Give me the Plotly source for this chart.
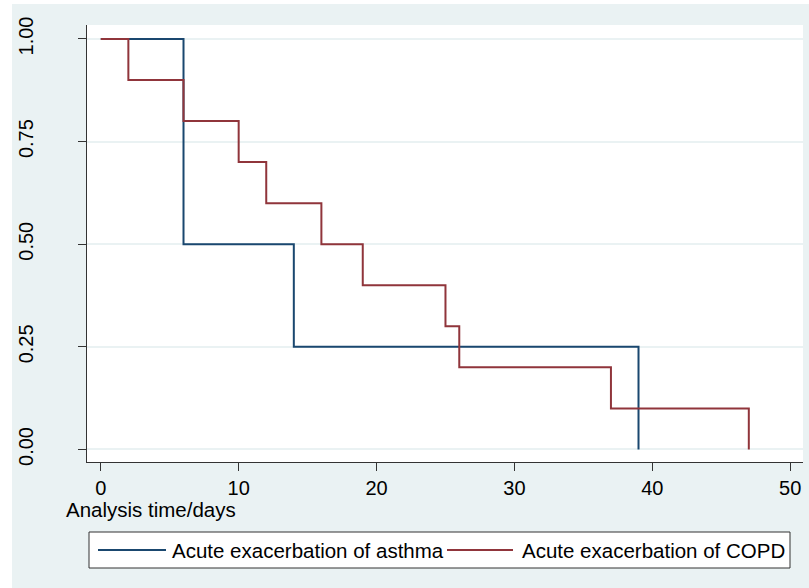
import plotly.graph_objects as go

# ---- data ----
asthma_time = [0, 6, 14, 39]
asthma_surv = [1.0, 0.5, 0.25, 0.0]
copd_time = [0, 2, 6, 10, 12, 16, 19, 25, 26, 37, 47]
copd_surv = [1.0, 0.9, 0.8, 0.7, 0.6, 0.5, 0.4, 0.3, 0.2, 0.1, 0.0]
x_ticks = [0, 10, 20, 30, 40, 50]
y_ticks = [0, 0.25, 0.5, 0.75, 1.0]
y_tick_labels = ["0.00", "0.25", "0.50", "0.75", "1.00"]
series_names = ["Acute exacerbation of asthma", "Acute exacerbation of COPD"]
x_title = "Analysis time/days"

BLUE = "#1a476f"
RED = "#90353b"
BG = "#eaf2f3"
AX = "#333333"
FONT = "Liberation Sans, Arial, Helvetica, sans-serif"

W, H = 809, 588
L, R, T, B = 87, 6, 25, 126
pw, ph = W - L - R, H - T - B


def px(x):
    return (x - L) / pw


def py(y):
    return (H - B - y) / ph


fig = go.Figure()
fig.add_trace(go.Scatter(x=asthma_time, y=asthma_surv, mode="lines", line_shape="hv",
                         name=series_names[0], line=dict(color=BLUE, width=2), showlegend=False))
fig.add_trace(go.Scatter(x=copd_time, y=copd_surv, mode="lines", line_shape="hv",
                         name=series_names[1], line=dict(color=RED, width=2), showlegend=False))

shapes = [
    # white strips at the top/left edges of the image
    dict(type="rect", xref="paper", yref="paper", x0=px(-5), x1=px(12), y0=py(H + 5), y1=py(-5),
         fillcolor="white", line=dict(width=0), layer="above"),
    dict(type="rect", xref="paper", yref="paper", x0=px(-5), x1=px(W + 5), y0=py(4), y1=py(-5),
         fillcolor="white", line=dict(width=0), layer="above"),
    # legend box
    dict(type="rect", xref="paper", yref="paper", x0=px(89), x1=px(790), y0=py(568), y1=py(532),
         fillcolor="white", line=dict(color=AX, width=1), layer="above"),
    dict(type="line", xref="paper", yref="paper", x0=px(98), x1=px(166), y0=py(550), y1=py(550),
         line=dict(color=BLUE, width=2), layer="above"),
    dict(type="line", xref="paper", yref="paper", x0=px(447), x1=px(513), y0=py(550), y1=py(550),
         line=dict(color=RED, width=2), layer="above"),
]

annotations = [
    dict(text=series_names[0], xref="paper", yref="paper", x=px(170), y=py(550),
         xanchor="left", yanchor="middle", showarrow=False, font=dict(size=20.5, color="black", family=FONT)),
    dict(text=series_names[1], xref="paper", yref="paper", x=px(520), y=py(550),
         xanchor="left", yanchor="middle", showarrow=False, font=dict(size=20.5, color="black", family=FONT)),
    dict(text=x_title, xref="paper", yref="paper", x=px(64), y=py(509),
         xanchor="left", yanchor="middle", showarrow=False, font=dict(size=20.5, color="black", family=FONT)),
]

fig.update_layout(
    width=W, height=H,
    margin=dict(l=L, r=R, t=T, b=B, pad=0),
    paper_bgcolor=BG, plot_bgcolor="white",
    font=dict(family=FONT, size=20, color="black"),
    showlegend=False,
    shapes=shapes, annotations=annotations,
    xaxis=dict(range=[-1.0, 50.93], tickvals=x_ticks, ticks="outside", ticklen=8,
               tickcolor=AX, tickwidth=1.3, showline=True, linecolor=AX, linewidth=1.3,
               showgrid=False, zeroline=False, tickfont=dict(size=20, color="black")),
    yaxis=dict(range=[-0.0305, 1.034], tickvals=y_ticks, ticktext=y_tick_labels, tickangle=-90,
               ticks="outside", ticklen=8, tickcolor=AX, tickwidth=1.3, showline=True,
               linecolor=AX, linewidth=1.3, showgrid=True, gridcolor=BG, gridwidth=1.5,
               zeroline=False, ticklabelstandoff=37, tickfont=dict(size=20, color="black")),
)

fig.write_html("out.html", config={"displayModeBar": False},
               post_script="document.body.style.margin='0';document.body.style.overflow='hidden';")
